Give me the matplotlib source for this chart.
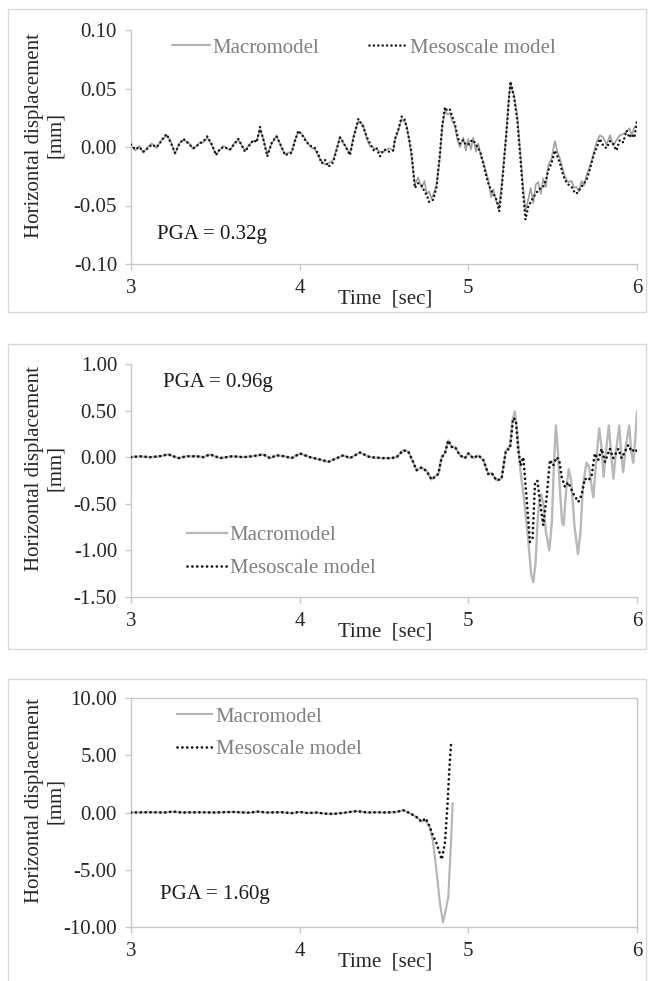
import numpy as np
import matplotlib.pyplot as plt
from matplotlib.patches import Rectangle

plt.rcParams['font.family'] = ['Liberation Serif', 'DejaVu Serif']
FS = 15

# ---- PGA = 0.32g ----
t1 = [3.000, 3.025, 3.050, 3.073, 3.100, 3.123, 3.152, 3.175, 3.192, 3.211,
      3.235, 3.261, 3.285, 3.310, 3.340, 3.369, 3.409, 3.430, 3.452, 3.480,
      3.504, 3.525, 3.547, 3.587, 3.610, 3.636, 3.676, 3.700, 3.725, 3.745,
      3.765, 3.785, 3.808, 3.835, 3.863, 3.890, 3.913, 3.952, 3.972, 3.992,
      4.015, 4.041, 4.065, 4.091, 4.110, 4.130, 4.150, 4.170, 4.199, 4.220,
      4.239, 4.259, 4.280, 4.298, 4.320, 4.348, 4.377, 4.400, 4.417, 4.440,
      4.456, 4.476, 4.500, 4.530, 4.555, 4.565, 4.585, 4.605, 4.624, 4.634,
      4.650, 4.663, 4.683, 4.703, 4.723, 4.740, 4.753, 4.768, 4.780, 4.792,
      4.812, 4.832, 4.845, 4.861, 4.875, 4.891, 4.905, 4.920, 4.935, 4.950,
      4.970, 4.985, 4.999, 5.015, 5.029, 5.045, 5.059, 5.075, 5.088, 5.105,
      5.118, 5.135, 5.148, 5.167, 5.183, 5.195, 5.207, 5.227, 5.240, 5.250,
      5.260, 5.270, 5.290, 5.306, 5.325, 5.339, 5.355, 5.370, 5.385, 5.400,
      5.414, 5.430, 5.444, 5.460, 5.474, 5.493, 5.513, 5.528, 5.543, 5.558,
      5.572, 5.592, 5.612, 5.627, 5.641, 5.656, 5.671, 5.686, 5.701, 5.715,
      5.730, 5.745, 5.760, 5.780, 5.800, 5.819, 5.840, 5.859, 5.878, 5.898,
      5.918, 5.938, 5.955, 5.968, 5.985, 6.000]
meso1 = [0.002, -0.002, 0.000, -0.004, -0.001, 0.002, 0.000, 0.004, 0.008, 0.011,
         0.004, -0.005, 0.002, 0.007, 0.003, -0.001, 0.003, 0.005, 0.009, 0.002,
         -0.007, -0.002, 0.000, -0.002, 0.002, 0.007, -0.004, 0.001, 0.006, 0.004,
         0.017, 0.006, -0.008, 0.004, 0.009, 0.001, -0.007, -0.005, 0.005, 0.014,
         0.010, 0.004, 0.001, -0.001, -0.006, -0.014, -0.011, -0.017, -0.013, -0.002,
         0.008, 0.004, -0.002, -0.007, 0.008, 0.024, 0.017, 0.008, 0.003, -0.003,
         -0.001, -0.008, -0.002, -0.004, -0.003, 0.007, 0.015, 0.026, 0.023, 0.017,
         0.006, -0.005, -0.035, -0.031, -0.033, -0.038, -0.041, -0.047, -0.046, -0.045,
         -0.034, -0.005, 0.018, 0.034, 0.031, 0.032, 0.026, 0.020, 0.010, 0.003,
         0.006, 0.002, 0.002, 0.005, 0.006, 0.002, -0.001, -0.006, -0.014, -0.024,
         -0.031, -0.037, -0.040, -0.045, -0.055, -0.040, -0.020, 0.014, 0.040, 0.056,
         0.050, 0.043, 0.023, -0.005, -0.040, -0.062, -0.051, -0.047, -0.043, -0.040,
         -0.037, -0.035, -0.034, -0.028, -0.020, -0.014, -0.003, -0.008, -0.014, -0.022,
         -0.028, -0.032, -0.034, -0.038, -0.040, -0.037, -0.034, -0.031, -0.028, -0.022,
         -0.014, -0.006, -0.001, 0.007, 0.001, -0.001, 0.005, 0.003, -0.003, 0.006,
         0.004, 0.014, 0.008, 0.011, 0.008, 0.023]
macro1 = [0.001, -0.003, 0.001, -0.005, 0.000, 0.003, -0.001, 0.005, 0.007, 0.010,
          0.005, -0.006, 0.003, 0.006, 0.004, -0.002, 0.004, 0.004, 0.008, 0.001,
          -0.006, -0.003, 0.001, -0.003, 0.003, 0.006, -0.003, 0.002, 0.005, 0.005,
          0.015, 0.007, -0.006, 0.003, 0.010, 0.000, -0.006, -0.004, 0.006, 0.013,
          0.011, 0.005, 0.000, -0.002, -0.008, -0.012, -0.015, -0.014, -0.011, -0.001,
          0.009, 0.003, -0.001, -0.006, 0.010, 0.022, 0.019, 0.006, 0.001, -0.001,
          -0.002, -0.004, -0.004, -0.001, -0.003, 0.006, 0.014, 0.024, 0.021, 0.018,
          0.005, -0.008, -0.032, -0.026, -0.035, -0.029, -0.040, -0.038, -0.044, -0.041,
          -0.032, -0.008, 0.016, 0.031, 0.028, 0.029, 0.022, 0.018, 0.006, 0.000,
          0.008, -0.003, 0.007, -0.002, 0.008, -0.004, 0.003, -0.009, -0.012, -0.021,
          -0.028, -0.043, -0.036, -0.047, -0.050, -0.036, -0.018, 0.016, 0.042, 0.055,
          0.048, 0.045, 0.028, 0.000, -0.035, -0.055, -0.045, -0.035, -0.048, -0.032,
          -0.030, -0.040, -0.027, -0.034, -0.016, -0.010, 0.005, -0.004, -0.010, -0.018,
          -0.025, -0.030, -0.029, -0.035, -0.034, -0.038, -0.029, -0.033, -0.024, -0.019,
          -0.012, -0.004, 0.004, 0.010, 0.008, 0.002, 0.010, 0.001, 0.006, 0.010,
          0.011, 0.013, 0.016, 0.010, 0.017, 0.018]

# ---- PGA = 0.96g ----
t2_meso = [3.000, 3.050, 3.113, 3.170, 3.221, 3.281, 3.330, 3.389, 3.430, 3.468,
           3.528, 3.600, 3.666, 3.720, 3.784, 3.824, 3.863, 3.910, 3.952, 4.002,
           4.061, 4.110, 4.170, 4.220, 4.259, 4.298, 4.357, 4.417, 4.496, 4.540,
           4.575, 4.614, 4.644, 4.670, 4.693, 4.723, 4.753, 4.782, 4.822, 4.842,
           4.861, 4.881, 4.901, 4.921, 4.950, 4.980, 5.000, 5.029, 5.059, 5.089,
           5.118, 5.138, 5.168, 5.197, 5.223, 5.247, 5.266, 5.282, 5.296, 5.310,
           5.326, 5.345, 5.365, 5.381, 5.395, 5.409, 5.424, 5.444, 5.464, 5.484,
           5.503, 5.523, 5.539, 5.553, 5.573, 5.592, 5.622, 5.652, 5.671, 5.691,
           5.711, 5.731, 5.750, 5.770, 5.790, 5.810, 5.839, 5.859, 5.889, 5.909,
           5.948, 5.968, 5.988, 6.000]
meso2 = [0.00, 0.01, 0.00, 0.01, 0.03, -0.01, 0.01, 0.01, 0.00, 0.03,
         -0.01, 0.01, 0.00, 0.01, 0.03, -0.01, 0.02, 0.01, -0.01, 0.04,
         0.00, -0.02, -0.05, -0.01, 0.02, -0.01, 0.05, 0.00, -0.01, -0.01,
         0.00, 0.075, 0.06, -0.04, -0.14, -0.11, -0.15, -0.24, -0.18, 0.00,
         0.04, 0.18, 0.11, 0.11, 0.02, -0.01, 0.04, -0.01, 0.02, -0.03,
         -0.18, -0.17, -0.25, -0.23, 0.075, 0.09, 0.42, 0.40, 0.075, -0.09,
         0.00, -0.43, -0.91, -0.87, -0.29, -0.25, -0.47, -0.73, -0.43, -0.03,
         -0.09, 0.00, -0.03, -0.21, -0.32, -0.27, -0.39, -0.48, -0.41, -0.23,
         -0.25, -0.20, 0.04, -0.03, 0.09, -0.05, 0.09, -0.01, 0.09, -0.01,
         0.13, 0.06, 0.09, 0.06]
t2_macro = [3.000, 3.050, 3.113, 3.170, 3.221, 3.281, 3.330, 3.389, 3.430, 3.468,
            3.528, 3.600, 3.666, 3.720, 3.784, 3.824, 3.863, 3.910, 3.952, 4.002,
            4.061, 4.110, 4.170, 4.220, 4.259, 4.298, 4.357, 4.417, 4.496, 4.540,
            4.575, 4.614, 4.644, 4.670, 4.693, 4.723, 4.753, 4.782, 4.822, 4.842,
            4.861, 4.881, 4.901, 4.921, 4.950, 4.980, 5.000, 5.029, 5.059, 5.089,
            5.118, 5.138, 5.168, 5.197, 5.223, 5.247, 5.262, 5.276, 5.290, 5.310,
            5.330, 5.355, 5.372, 5.385, 5.398, 5.410, 5.420, 5.432, 5.444, 5.460,
            5.480, 5.495, 5.508, 5.519, 5.530, 5.543, 5.556, 5.565, 5.580, 5.595,
            5.610, 5.630, 5.650, 5.665, 5.680, 5.700, 5.715, 5.730, 5.741, 5.760,
            5.776, 5.790, 5.802, 5.818, 5.833, 5.846, 5.860, 5.878, 5.895, 5.906,
            5.918, 5.936, 5.954, 5.966, 5.978, 5.990, 6.000]
macro2 = [0.00, 0.01, 0.00, 0.01, 0.03, -0.01, 0.01, 0.01, 0.00, 0.03,
          -0.01, 0.01, 0.00, 0.01, 0.03, -0.01, 0.02, 0.01, -0.01, 0.04,
          0.00, -0.02, -0.05, -0.01, 0.02, -0.01, 0.05, 0.00, -0.01, -0.01,
          0.00, 0.075, 0.06, -0.04, -0.14, -0.11, -0.15, -0.24, -0.18, 0.00,
          0.04, 0.18, 0.11, 0.11, 0.02, -0.01, 0.04, -0.01, 0.02, -0.03,
          -0.18, -0.17, -0.25, -0.23, 0.075, 0.12, 0.40, 0.49, 0.25, -0.16,
          -0.45, -0.88, -1.25, -1.34, -1.15, -0.70, -0.48, -0.40, -0.50, -0.80,
          -1.00, -0.70, -0.05, 0.34, 0.10, -0.35, -0.70, -0.73, -0.35, -0.13,
          -0.25, -0.75, -1.04, -0.80, -0.30, -0.06, -0.10, -0.30, -0.43, 0.00,
          0.31, 0.10, -0.21, 0.10, 0.34, 0.05, -0.23, 0.10, 0.34, 0.05,
          -0.16, 0.15, 0.34, 0.05, -0.06, 0.20, 0.49]

# ---- PGA = 1.60g ----
t3_meso = [3.000, 3.100, 3.200, 3.250, 3.300, 3.400, 3.500, 3.600, 3.700, 3.750,
           3.800, 3.900, 3.950, 4.000, 4.050, 4.100, 4.150, 4.200, 4.250, 4.300,
           4.340, 4.400, 4.450, 4.500, 4.550, 4.575, 4.614, 4.644, 4.670, 4.693,
           4.723, 4.747, 4.770, 4.790, 4.812, 4.842, 4.861, 4.877, 4.887, 4.899]
meso3 = [0.00, 0.02, 0.00, 0.08, 0.00, 0.02, 0.00, 0.05, -0.02, 0.08,
         0.00, 0.02, -0.06, 0.05, -0.05, 0.00, -0.10, -0.12, -0.05, 0.05,
         0.12, 0.00, 0.02, 0.00, 0.02, 0.05, 0.20, 0.00, -0.20, -0.40,
         -0.80, -0.50, -1.20, -2.00, -2.70, -4.10, -2.70, 0.80, 3.70, 6.30]
t3_macro = [3.000, 3.100, 3.200, 3.250, 3.300, 3.400, 3.500, 3.600, 3.700, 3.750,
            3.800, 3.900, 3.950, 4.000, 4.050, 4.100, 4.150, 4.200, 4.250, 4.300,
            4.340, 4.400, 4.450, 4.500, 4.550, 4.575, 4.614, 4.644, 4.670, 4.693,
            4.723, 4.747, 4.772, 4.790, 4.802, 4.818, 4.832, 4.850, 4.866, 4.881,
            4.897, 4.907]
macro3 = [0.00, 0.02, 0.00, 0.08, 0.00, 0.02, 0.00, 0.05, -0.02, 0.08,
          0.00, 0.02, -0.06, 0.05, -0.05, 0.00, -0.10, -0.12, -0.05, 0.05,
          0.12, 0.00, 0.02, 0.00, 0.02, 0.05, 0.20, 0.00, -0.20, -0.40,
          -0.80, -0.70, -1.30, -2.50, -3.90, -6.00, -8.00, -9.60, -8.50, -7.40,
          -2.70, 0.80]

yticks1 = [0.10, 0.05, 0.00, -0.05, -0.10]
yticks2 = [1.00, 0.50, 0.00, -0.50, -1.00, -1.50]
yticks3 = [10.0, 5.0, 0.0, -5.0, -10.0]
xticks = [3, 4, 5, 6]

W, H = 651, 981
fig = plt.figure(figsize=(W / 100, H / 100), dpi=100)


def px(x, y):
    return x / W, 1 - y / H


def add_panel(top, bottom):
    l, r = 131, 637
    return fig.add_axes([l / W, 1 - bottom / H, (r - l) / W, (bottom - top) / H])


# outer chart borders
for top, bottom in [(9, 312), (344, 649), (679, 1000)]:
    fig.add_artist(Rectangle(px(8, bottom), 638 / W, (bottom - top) / H,
                             transform=fig.transFigure, fill=False,
                             edgecolor='#d9d9d9', lw=1.0))

panels = [
    dict(top=30, bottom=264, t_ma=t1, ma=macro1, t_me=t1, me=meso1, yt=yticks1,
         ma_c='#a0a0a0', ma_lw=1.2, me_lw=1.8, box=False,
         pga='PGA = 0.32g', pga_xy=(157, 235)),
    dict(top=364, bottom=597, t_ma=t2_macro, ma=macro2, t_me=t2_meso, me=meso2,
         yt=yticks2, ma_c='#b8b8b8', ma_lw=1.7, me_lw=2.0, box=False,
         pga='PGA = 0.96g', pga_xy=(163, 383)),
    dict(top=698, bottom=927, t_ma=t3_macro, ma=macro3, t_me=t3_meso, me=meso3,
         yt=yticks3, ma_c='#b4b4b4', ma_lw=1.5, me_lw=2.0, box=True,
         pga='PGA = 1.60g', pga_xy=(160, 895)),
]

axes = []
for p in panels:
    ax = add_panel(p['top'], p['bottom'])
    ax.plot(p['t_ma'], p['ma'], color=p['ma_c'], lw=p['ma_lw'],
            label='Macromodel', zorder=2)
    ax.plot(p['t_me'], p['me'], color='#141414', lw=p['me_lw'],
            linestyle=(0, (0.01, 1.75)), dash_capstyle='round',
            label='Mesoscale model', zorder=3)
    ax.set_xlim(3, 6)
    ax.set_ylim(p['yt'][-1], p['yt'][0])
    ax.set_xticks(xticks)
    ax.set_xticklabels([str(v) for v in xticks])
    ax.set_yticks(p['yt'])
    ax.set_yticklabels([f'{v:.2f}' for v in p['yt']])
    for side in ['left', 'bottom', 'top', 'right']:
        ax.spines[side].set_color('#c8c8c8')
        ax.spines[side].set_linewidth(1.0)
    if not p['box']:
        ax.spines['top'].set_visible(False)
        ax.spines['right'].set_visible(False)
    ax.tick_params(direction='out', length=4, width=1.0, color='#c8c8c8',
                   labelsize=FS, labelcolor='#262626')
    ax.tick_params(axis='y', pad=6)
    ax.tick_params(axis='x', pad=7)
    ax.patch.set_visible(False)

    cy = (p['top'] + p['bottom']) / 2 - 12
    fig.text(*px(45, cy), 'Horizontal displacement\n[mm]', rotation=90,
             ha='center', va='center', fontsize=FS, color='#262626',
             linespacing=1.15, rotation_mode='anchor')
    fig.text(*px(385, p['bottom'] + 35), 'Time  [sec]', ha='center', va='center',
             fontsize=FS, color='#262626')
    fig.text(*px(*p['pga_xy']), p['pga'], ha='left', va='center',
             fontsize=FS, color='#1a1a1a')
    axes.append(ax)

leg_kw = dict(frameon=False, fontsize=FS, labelcolor='#808080', borderpad=0,
              borderaxespad=0, handletextpad=0.15, loc='center left',
              bbox_transform=fig.transFigure)
axes[0].legend(ncol=2, handlelength=1.8, columnspacing=2.4,
               bbox_to_anchor=px(172, 48), **leg_kw)
axes[1].legend(ncol=1, handlelength=1.9, labelspacing=0.65,
               bbox_to_anchor=px(187, 552), **leg_kw)
axes[2].legend(ncol=1, handlelength=1.7, labelspacing=0.6,
               bbox_to_anchor=px(177, 733), **leg_kw)

fig.savefig('out.png', dpi=100)
